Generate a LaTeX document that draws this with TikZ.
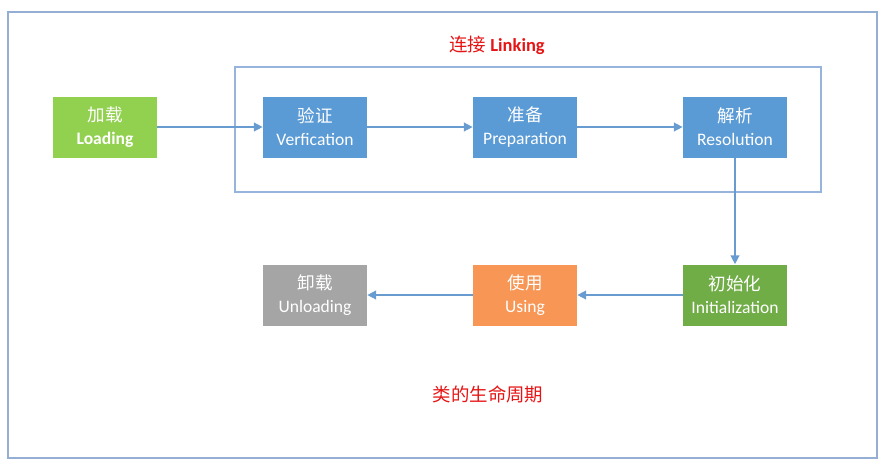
\documentclass[tikz,border=0pt]{standalone}
\usepackage{fontspec}
\setmainfont{Carlito}
\newfontfamily\cjk{Noto Sans CJK SC}
\usepackage{tikz}
\usetikzlibrary{
  arrows.meta,
  positioning
}
\usepackage{xcolor}
\definecolor{loadgreen}{RGB}{146,208,80}
\definecolor{linkblue}{RGB}{91,155,213}
\definecolor{initgreen}{RGB}{112,173,71}
\definecolor{useorange}{RGB}{247,150,85}
\definecolor{unloadgray}{RGB}{165,165,165}
\definecolor{arrowblue}{RGB}{104,156,208}
\definecolor{frameblue}{RGB}{150,180,220}
\definecolor{titlered}{RGB}{230,20,20}

\begin{document}
\begin{tikzpicture}[x=0.02cm, y=-0.02cm,
  stage/.style={minimum width=2.08cm, minimum height=1.22cm, inner sep=0pt,
    align=center, text=white, font={\fontsize{10}{13}\selectfont}},
  flow/.style={draw=arrowblue, thick, -{Triangle[length=5pt, width=5pt]}},
  title/.style={text=titlered, font={\fontsize{10.5}{12}\selectfont}}]
  \useasboundingbox (0,0) rectangle (893,471);

  % Outer frame and the linking group
  \draw[frameblue!90!gray, thick] (8,12) rectangle (877,458);
  \draw[frameblue, thick] (235,67) rectangle (821,192);

  % Titles
  \node[title] (linktitle) at (497,45) {{\cjk 连接} \textbf{Linking}};
  \node[title] (lifetitle) at (488,394) {\cjk 类的生命周期};

  % Stages
  \node[stage, fill=loadgreen] (load) at (105,127) {{\cjk 加载}\\\textbf{Loading}};
  \node[stage, fill=linkblue] (verify) at (315,127) {{\cjk 验证}\\Verfication};
  \node[stage, fill=linkblue] (prepare) at (525,127) {{\cjk 准备}\\Preparation};
  \node[stage, fill=linkblue] (resolve) at (735,127) {{\cjk 解析}\\Resolution};
  \node[stage, fill=initgreen] (init) at (735,295) {{\cjk 初始化}\\Initialization};
  \node[stage, fill=useorange] (use) at (525,295) {{\cjk 使用}\\Using};
  \node[stage, fill=unloadgray] (unload) at (315,295) {{\cjk 卸载}\\Unloading};

  % Arrows between stages
  \foreach \a/\b in {load/verify, verify/prepare, prepare/resolve,
                     resolve/init, init/use, use/unload}{
    \draw[flow] (\a) -- (\b);
  }
\end{tikzpicture}
\end{document}
